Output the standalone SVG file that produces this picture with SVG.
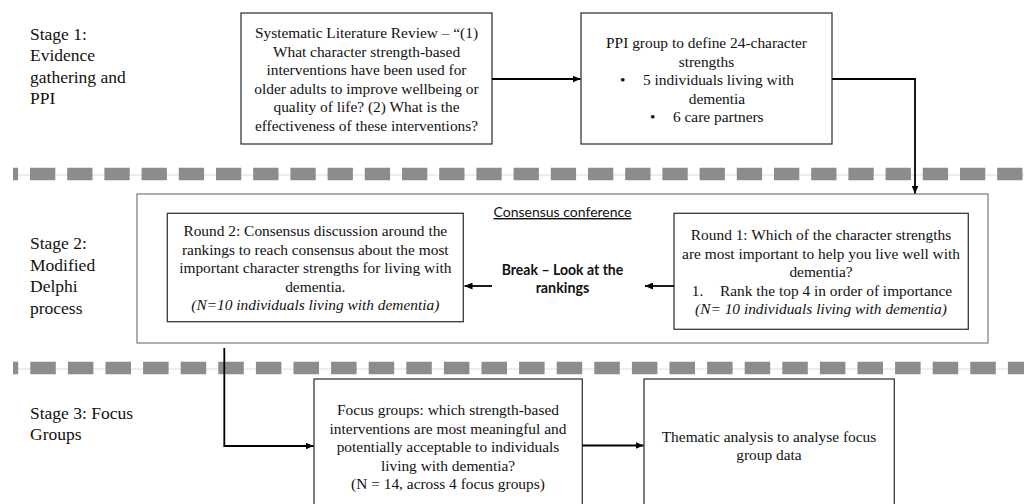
<svg xmlns="http://www.w3.org/2000/svg" width="1024" height="504" viewBox="0 0 1024 504">
<defs>
<marker id="ah" markerUnits="userSpaceOnUse" markerWidth="8" markerHeight="7" refX="8" refY="3.5" orient="auto">
<path d="M0,0 L8,3.5 L0,7 z" fill="#000"/>
</marker>
<style>
.lbl{font-family:"Liberation Serif","Times New Roman",serif;font-size:17.5px;fill:#111}
.bt{font-family:"Liberation Serif","Times New Roman",serif;font-size:15.4px;fill:#111;text-anchor:middle}
.bs{font-family:"Liberation Serif","Times New Roman",serif;font-size:15.4px;fill:#111}
.it{font-style:italic}
.box{fill:#fff;stroke:#3a3a3a;stroke-width:1.3}
.outer{fill:none;stroke:#7a7a7a;stroke-width:1.2}
.sans{font-family:Lato,"Liberation Sans",sans-serif;font-size:14.3px;fill:#111;text-anchor:middle}
.bold{font-weight:bold}
.con{fill:none;stroke:#000;stroke-width:1.8}
.thin{stroke:#dcdcdc;stroke-width:1.2}
.dash{stroke:#8c8c8c;stroke-width:12.5}
</style>
</defs>
<rect width="1024" height="504" fill="#fff"/>

<g id="separators">
<line class="thin" x1="13" y1="175" x2="1024" y2="175"/>
<line class="dash" x1="13" y1="174" x2="1024" y2="174" stroke-dasharray="25.3 11.9" stroke-dashoffset="20.2"/>
<line class="thin" x1="13" y1="369" x2="1024" y2="369"/>
<line class="dash" x1="13" y1="368" x2="1024" y2="368" stroke-dasharray="25.5 12.1" stroke-dashoffset="20.3"/>
</g>

<g id="stage-labels">
<text class="lbl" x="30" y="39.5">Stage 1:</text>
<text class="lbl" x="30" y="61">Evidence</text>
<text class="lbl" x="30" y="82.5">gathering and</text>
<text class="lbl" x="30" y="104">PPI</text>
<text class="lbl" x="30" y="249">Stage 2:</text>
<text class="lbl" x="30" y="270.5">Modified</text>
<text class="lbl" x="30" y="292">Delphi</text>
<text class="lbl" x="30" y="313.5">process</text>
<text class="lbl" x="30" y="418.5">Stage 3: Focus</text>
<text class="lbl" x="30" y="440">Groups</text>
</g>

<g id="review">
<rect class="box" x="241" y="13" width="251" height="131"/>
<text class="bt" x="366.5" y="38">Systematic Literature Review – “(1)</text>
<text class="bt" x="366.5" y="56.5">What character strength-based</text>
<text class="bt" x="366.5" y="75">interventions have been used for</text>
<text class="bt" x="366.5" y="93.5">older adults to improve wellbeing or</text>
<text class="bt" x="366.5" y="112">quality of life? (2) What is the</text>
<text class="bt" x="366.5" y="130.5">effectiveness of these interventions?</text>
</g>

<g id="ppi">
<rect class="box" x="581" y="13" width="251" height="131"/>
<text class="bt" x="706.5" y="48">PPI group to define 24-character</text>
<text class="bt" x="706.5" y="66.5">strengths</text>
<text class="bs" x="620" y="85">•</text>
<text class="bs" x="643" y="85">5 individuals living with</text>
<text class="bt" x="717" y="103.5">dementia</text>
<text class="bs" x="650" y="122">•</text>
<text class="bs" x="673" y="122">6 care partners</text>
</g>

<g id="consensus-conference">
<rect class="outer" x="137" y="194" width="851" height="149"/>
<text class="sans" x="562.5" y="217" text-decoration="underline" textLength="138" lengthAdjust="spacingAndGlyphs">Consensus conference</text>
</g>

<g id="round2">
<rect class="box" x="167.3" y="213.3" width="296" height="108.4"/>
<text class="bt" x="315.3" y="236">Round 2: Consensus discussion around the</text>
<text class="bt" x="315.3" y="254.5">rankings to reach consensus about the most</text>
<text class="bt" x="315.3" y="273">important character strengths for living with</text>
<text class="bt" x="315.3" y="291.5">dementia.</text>
<text class="bt it" x="315.3" y="310">(N=10 individuals living with dementia)</text>
</g>

<g id="break">
<text class="sans bold" x="562.5" y="275" textLength="121.6" lengthAdjust="spacingAndGlyphs">Break – Look at the</text>
<text class="sans bold" x="562.5" y="293">rankings</text>
</g>

<g id="round1">
<rect class="box" x="674" y="213.3" width="294.3" height="116"/>
<text class="bt" x="821" y="240">Round 1: Which of the character strengths</text>
<text class="bt" x="821" y="258.5">are most important to help you live well with</text>
<text class="bt" x="821" y="277">dementia?</text>
<text class="bs" x="691.7" y="295.5">1.</text>
<text class="bs" x="720" y="295.5">Rank the top 4 in order of importance</text>
<text class="bt it" x="821" y="314">(N= 10 individuals living with dementia)</text>
</g>

<g id="focus-groups">
<rect class="box" x="314" y="379" width="268.3" height="140"/>
<text class="bt" x="448" y="415">Focus groups: which strength-based</text>
<text class="bt" x="448" y="433.5">interventions are most meaningful and</text>
<text class="bt" x="448" y="452">potentially acceptable to individuals</text>
<text class="bt" x="448" y="470.5">living with dementia?</text>
<text class="bt" x="448" y="489">(N = 14, across 4 focus groups)</text>
</g>

<g id="thematic">
<rect class="box" x="644" y="379" width="250.3" height="140"/>
<text class="bt" x="769" y="441.5">Thematic analysis to analyse focus</text>
<text class="bt" x="769" y="460">group data</text>
</g>

<g id="connectors">
<path class="con" d="M492,79 H580.5" marker-end="url(#ah)"/>
<path class="con" d="M832,79 H915 V193.5" marker-end="url(#ah)"/>
<path class="con" d="M674,286 H645" marker-end="url(#ah)"/>
<path class="con" d="M492,286 H464.5" marker-end="url(#ah)"/>
<path class="con" d="M224.3,348 V446 H313.5" marker-end="url(#ah)"/>
<path class="con" d="M582.3,445.5 H643.5" marker-end="url(#ah)"/>
</g>
</svg>
